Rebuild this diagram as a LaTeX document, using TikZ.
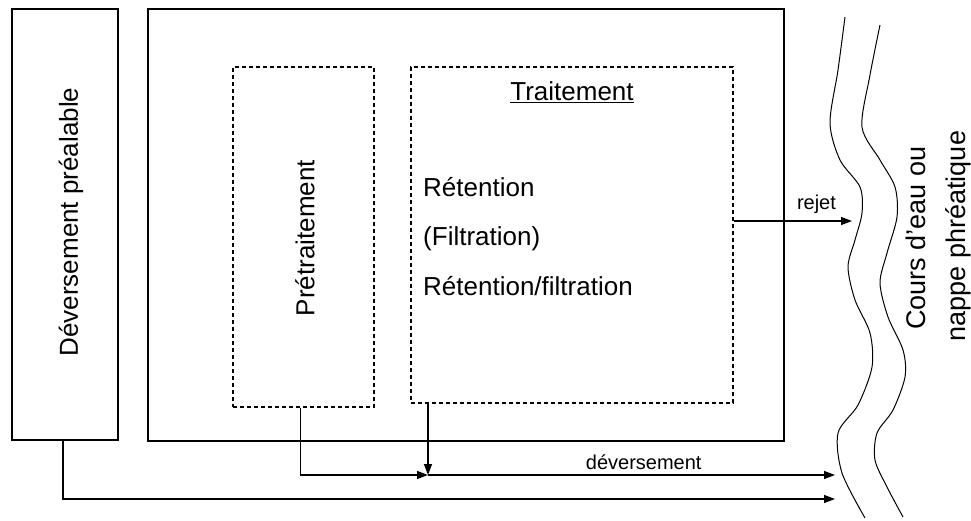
\documentclass[tikz,border=0pt]{standalone}
\usepackage{fontspec}
\setmainfont{Liberation Sans}
\usetikzlibrary{arrows.meta}
\tikzset{
  bloc/.style={draw, line width=1.2pt, inner sep=0pt},
  pointille/.style={draw, dash pattern=on 4pt off 3pt, line width=1.1pt, inner sep=0pt},
  grand/.style={font=\fontsize{26}{31}\selectfont, inner sep=0pt},
  riviere/.style={font=\fontsize{27}{32}\selectfont, inner sep=0pt},
  petit/.style={font=\fontsize{20}{24}\selectfont},
  fleche/.style={line width=1.4pt, ->, >={Triangle[length=11pt,width=8pt]}},
}
\begin{document}
\begin{tikzpicture}[x=1pt,y=-1pt]
\useasboundingbox (0,0) rectangle (971,521);
\node[bloc, minimum width=106pt, minimum height=431pt] (prealable) at (65,224.5) {};
\node[grand, rotate=90] (tprealable) at (71,222) {Déversement préalable};
\node[bloc, minimum width=636pt, minimum height=432pt] (station) at (466,225) {};
\node[pointille, minimum width=141pt, minimum height=340pt] (pretrait) at (303.5,237) {};
\node[grand, rotate=90] (tpretrait) at (305,238) {Prétraitement};
\node[pointille, minimum width=322pt, minimum height=336pt] (trait) at (572,235) {};
\node[grand] (ttrait) at (572,92) {\underline{Traitement}};
\node[grand, anchor=base west] (retention) at (423,197) {Rétention};
\node[grand, anchor=base west] (filtration) at (423,246) {(Filtration)};
\node[grand, anchor=base west] (retfil) at (423,295) {Rétention/filtration};
\draw[line width=1pt] plot[smooth] coordinates {(845,17) (838,70) (830,123) (840,160) (860,187) (862,213) (855,240) (848,267) (855,300) (870,333) (872,367) (858,405) (838,433) (842,473) (865,518)};
\draw[line width=1pt] plot[smooth] coordinates {(880,25) (870,75) (862,127) (880,160) (895,187) (897,217) (887,253) (880,283) (888,317) (903,350) (905,377) (893,410) (877,433) (875,460) (887,487) (903,517)};
\node[riviere, rotate=90] (cours) at (916,238) {Cours d'eau ou};
\node[riviere, rotate=90] (nappe) at (958,236) {nappe phréatique};
\coordinate (rejet) at (852,221);
\coordinate (jonction) at (428,475);
\coordinate (fin1) at (835,475);
\coordinate (fin2) at (835,499);
\draw[fleche] (trait.east |- rejet) -- (rejet) node[petit, above=3pt, pos=0.7] {rejet};
\draw[fleche] ([xshift=-2pt]prealable.south) |- (fin2);
\draw[fleche] ([xshift=-3pt]pretrait.south) |- (jonction);
\draw[fleche] (trait.south -| jonction) -- (jonction);
\draw[fleche] (jonction) -- (fin1) node[petit, above=1pt, pos=0.53] {déversement};
\end{tikzpicture}
\end{document}
